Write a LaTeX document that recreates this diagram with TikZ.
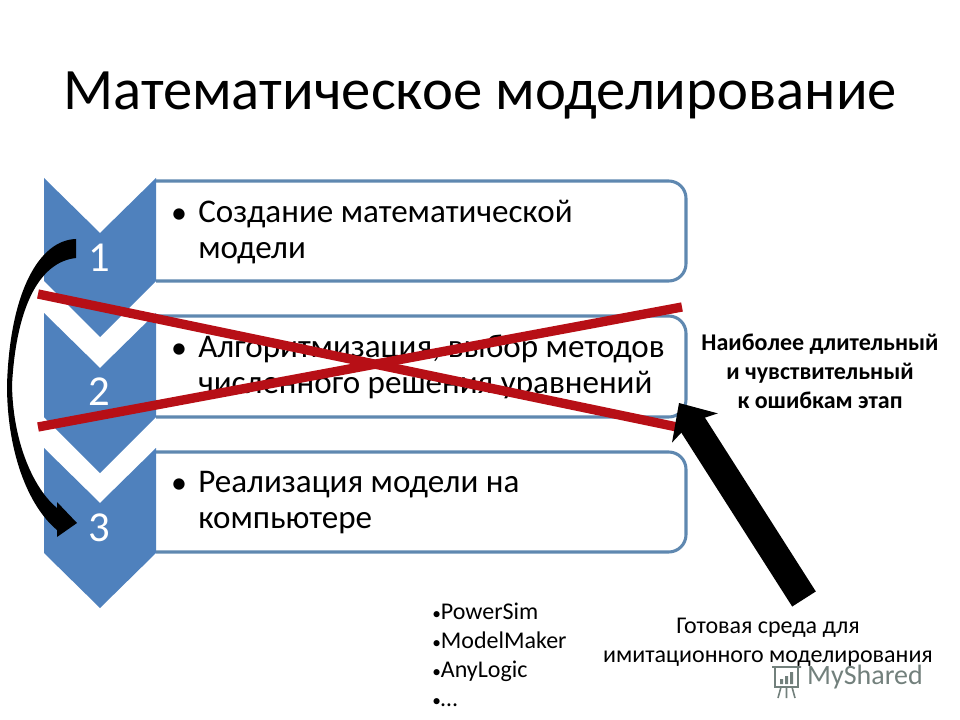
\documentclass[tikz,border=0pt]{standalone}
\usepackage{fontspec}
\setmainfont{Carlito}
\usetikzlibrary{arrows.meta}
\definecolor{stepblue}{HTML}{4F81BD}
\definecolor{boxblue}{HTML}{5F88B0}
\definecolor{crossred}{HTML}{B70F16}
\definecolor{markgray}{HTML}{72807C}
\newcommand{\listdot}{{\fontsize{13}{13}\selectfont•}}
\tikzset{
	stepshape/.style={fill=stepblue,draw=none},
	stepnum/.style={text=white,font=\fontsize{32}{36}\selectfont,inner sep=0pt},
	boxshape/.style={draw=boxblue,fill=white,line width=2.3pt},
	bullet/.style={font=\fontsize{24}{27}\selectfont,inner sep=0pt},
	boxtext/.style={font=\fontsize{24.8}{27}\selectfont,align=left,anchor=north west,inner sep=0pt},
	crossline/.style={draw=crossred,line width=7pt},
	smalltext/.style={font=\fontsize{18}{21.75}\selectfont,align=center,inner sep=0pt},
	listtext/.style={font=\fontsize{18}{21.75}\selectfont,align=left,anchor=north west,inner sep=0pt},
}
\begin{document}
\begin{tikzpicture}[x=0.75pt,y=-0.75pt]
	\useasboundingbox (0,0) rectangle (960,720);
	\node[font=\fontsize{44}{48}\selectfont,inner sep=0pt] at (480,95) (title) {Математическое моделирование};
	% boxes
	\draw[boxshape] (156,181) [rounded corners=13pt] -- (686,181) -- (686,281) [sharp corners] -- (156,281);
	\draw[boxshape] (156,316) [rounded corners=13pt] -- (686,316) -- (686,417) [sharp corners] -- (156,417);
	\draw[boxshape] (156,452) [rounded corners=13pt] -- (686,452) -- (686,552) [sharp corners] -- (156,552);
	% chevrons
	\fill[stepshape] (44,178) -- (100,233) -- (156,178) -- (156,281) -- (100,337) -- (44,281) -- cycle;
	\fill[stepshape] (44,313) -- (100,368) -- (156,313) -- (156,417) -- (100,473) -- (44,417) -- cycle;
	\fill[stepshape] (44,448) -- (100,503) -- (156,448) -- (156,553) -- (100,608) -- (44,553) -- cycle;
	\node[stepnum] at (99,258) (one) {1};
	\node[stepnum] at (99,392) (two) {2};
	\node[stepnum] at (99,528) (three) {3};
	% box texts
	\node[bullet] at (179,216) (bulletone) {•};
	\node[bullet] at (179,351) (bullettwo) {•};
	\node[bullet] at (179,486) (bulletthree) {•};
	\node[boxtext] at (198,200) (textone) {Создание математической\\модели};
	\node[boxtext] at (198,335) (texttwo) {Алгоритмизация, выбор методов\\численного решения уравнений};
	\node[boxtext] at (198,471) (textthree) {Реализация модели на\\компьютере};
	% cross
	\coordinate (crossa) at (38,294);
	\coordinate (crossb) at (677,427);
	\coordinate (crossc) at (38,427);
	\coordinate (crossd) at (682,307);
	\draw[crossline] (crossa)--(crossb);
	\draw[crossline] (crossc)--(crossd);
	% curved arrow
	\fill[black] (76,239) .. controls (40,240) and (10,290) .. (7,385) .. controls (7,450) and (27,505) .. (57,530) -- (57,537) -- (77,523) -- (57,502) -- (57,508) .. controls (35,490) and (13,445) .. (12,385) .. controls (16,310) and (38,262) .. (76,258) -- cycle;
	% straight arrow
	\coordinate (envstart) at (804,599);
	\coordinate (envend) at (679,403);
	\draw[line width=21pt,-{Stealth[length=22pt,width=40pt,inset=5pt]}] (envstart)--(envend);
	% side texts
	\node[smalltext,font=\fontsize{18}{21.75}\selectfont\bfseries] at (820,371) (hardest) {Наиболее длительный\\и чувствительный\\к ошибкам этап};
	\node[smalltext] at (768,642) (ready) {Готовая среда для\\имитационного моделирования};
	\node[listtext] at (432,603) (tools) {\listdot PowerSim\\\listdot ModelMaker\\\listdot AnyLogic\\\listdot …};
	% watermark
	\node[text=markgray,font=\fontsize{21}{24}\selectfont,inner sep=0pt] at (865,677) (mark) {MyShared};
	\draw[markgray,line width=1.2pt] (772,667) -- (801,667) (775,667) rectangle (798,687) (781,687) -- (778,698) (792,687) -- (795,698) (786.5,687) -- (786.5,698);
	\fill[markgray] (780,679) rectangle (783,684) (785,676) rectangle (788,684) (790,672) rectangle (793,684);
\end{tikzpicture}
\end{document}
